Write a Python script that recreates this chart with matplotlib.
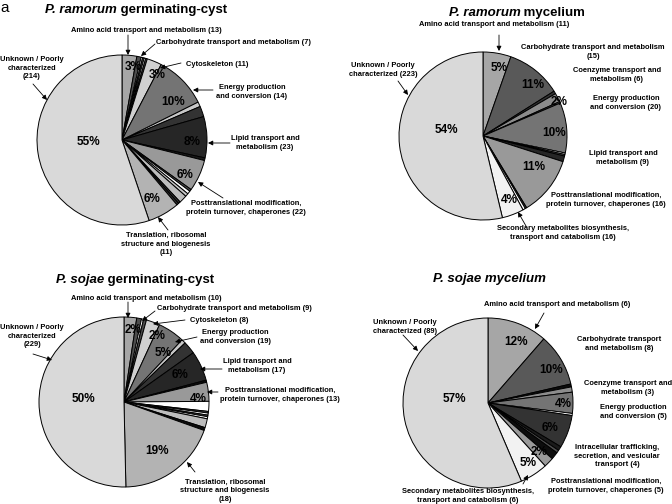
import matplotlib
matplotlib.use('Agg')
import matplotlib.pyplot as plt

plt.rcParams['font.family'] = ['Liberation Sans', 'DejaVu Sans']

H = 504  # figure height in px, used to flip y

# grey shades used in the slices
UN = '#d9d9d9'   # unknown
AM = '#a6a6a6'   # amino acid
CB = '#595959'   # carbohydrate
CY = '#d0d0d0'   # cytoskeleton
EN = '#747474'   # energy
LI = '#262626'   # lipid
PT = '#999999'   # posttranslational
TR = '#b3b3b3'   # translation
SE = '#f2f2f2'   # secondary metabolites
G2 = '#8c8c8c'
L = '#c8c8c8'
LG = '#bdbdbd'
W = '#ffffff'
D2 = '#1a1a1a'
D3 = '#333333'
D4 = '#4d4d4d'
K = '#0d0d0d'

# ---- P. ramorum germinating-cyst
rc_sizes = [2.8, 0.8, 0.3, 0.3, 0.3, 0.3, 2.8, 10, 0.9, 2, 7.8, 0.5, 6,
            0.4, 0.6, 0.6, 1.5, 0.4, 0.4, 6, 55]
rc_colors = [AM, D4, W, D4, W, D4, CY, EN, L, D3, LI, D2, PT,
             D4, W, L, LG, D3, D3, TR, UN]
rc_pct = [('3%', 133, 67), ('3%', 157, 75), ('10%', 173, 102), ('8%', 192, 142),
          ('6%', 185, 175), ('6%', 152, 199), ('55%', 88, 142)]
rc_labels = [
    ('Amino acid transport and metabolism (13)', 146, 31, (128, 35), (128, 55)),
    ('Carbohydrate transport and metabolism (7)', 234, 42, (155, 44), (141, 56)),
    ('Cytoskeleton (11)', 217, 64, (181, 63), (160, 68)),
    ('Energy production\nand conversion (14)', 252, 92, (213, 90), (193, 90)),
    ('Lipid transport and\nmetabolism (23)', 265, 143, (230, 143), (208, 143)),
    ('Posttranslational modification,\nprotein turnover, chaperones (22)', 246, 208, (223, 198), (198, 182)),
    ('Translation, ribosomal\nstructure and biogenesis\n(11)', 166, 244, (168, 230), (158, 217)),
    ('Unknown / Poorly\ncharacterized\n(214)', 32, 68, (33, 84), (47, 100)),
]

# ---- P. ramorum mycelium
rm_sizes = [5.4, 10.7, 0.55, 1.7, 0.3, 9.7, 0.3, 0.3, 1.1, 11.4, 0.3, 0.5, 4.2, 53.9]
rm_colors = [AM, CB, D3, G2, D4, EN, W, D4, LI, PT, D3, W, SE, UN]
rm_pct = [('5%', 499, 68), ('11%', 533, 85), ('2%', 559, 102), ('10%', 554, 133),
          ('11%', 534, 167), ('4%', 509, 200), ('54%', 446, 130)]
rm_labels = [
    ('Amino acid transport and metabolism (11)', 494, 24, (499, 35), (499, 51)),
    ('Carbohydrate transport and metabolism\n(15)', 593, 52, None, None),
    ('Coenzyme transport and\nmetabolism (6)', 617, 75, None, None),
    ('Energy production\nand conversion (20)', 626, 103, None, None),
    ('Lipid transport and\nmetabolism (9)', 623, 158, None, None),
    ('Posttranslational modification,\nprotein turnover, chaperones (16)', 606, 200, None, None),
    ('Secondary metabolites biosynthesis,\ntransport and catabolism (16)', 563, 233, (526, 226), (518, 212)),
    ('Unknown / Poorly\ncharacterized (223)', 383, 70, (398, 81), (408, 95)),
]

# ---- P. sojae germinating-cyst
sc_sizes = [2.4, 0.9, 0.4, 0.55, 2.6, 5.1, 0.8, 2.4, 5.7, 0.4, 3.6, 1.9,
            0.3, 0.4, 0.3, 0.4, 1.7, 0.55, 19.2, 50.3]
sc_colors = [AM, D4, W, D4, CY, EN, L, D3, LI, K, PT, W,
             D4, W, D4, W, LG, K, TR, UN]
sc_pct = [('2%', 133, 330), ('2%', 157, 336), ('5%', 163, 353), ('6%', 180, 375),
          ('4%', 198, 399), ('19%', 157, 451), ('50%', 83, 399)]
sc_labels = [
    ('Amino acid transport and metabolism (10)', 146, 299, (128, 302), (128, 318)),
    ('Carbohydrate transport and metabolism (9)', 234, 309, (155, 311), (142, 321)),
    ('Cytoskeleton (8)', 219, 321, (185, 320), (153, 324)),
    ('Energy production\nand conversion (19)', 235, 337, (197, 337), (175, 342)),
    ('Lipid transport and\nmetabolism (17)', 257, 366, (222, 369), (200, 369)),
    ('Posttranslational modification,\nprotein turnover, chaperones (13)', 280, 395, (218, 392), (207, 392)),
    ('Translation, ribosomal\nstructure and biogenesis\n(18)', 225, 491, (195, 472), (187, 462)),
    ('Unknown / Poorly\ncharacterized\n(229)', 32, 336, (33, 354), (52, 360)),
]

# ---- P. sojae mycelium
sm_sizes = [11.4, 10, 0.55, 1.0, 4.0, 0.4, 6.25, 0.8, 0.55, 1.4, 1.9, 5.3, 56.4]
sm_colors = [AM, CB, K, G2, EN, W, D3, D2, D4, K, PT, SE, UN]
sm_pct = [('12%', 516, 342), ('10%', 551, 370), ('4%', 563, 404), ('6%', 550, 428),
          ('2%', 539, 452), ('5%', 528, 463), ('57%', 454, 399)]
sm_labels = [
    ('Amino acid transport and metabolism (6)', 557, 304, (544, 313), (535, 329)),
    ('Carbohydrate transport\nand metabolism (8)', 619, 344, None, None),
    ('Coenzyme transport and\nmetabolism (3)', 628, 388, None, None),
    ('Energy production\nand conversion (5)', 633, 412, None, None),
    ('Intracellular trafficking,\nsecretion, and vesicular\ntransport (4)', 617, 456, None, None),
    ('Posttranslational modification,\nprotein turnover, chaperones (5)', 606, 486, None, None),
    ('Secondary metabolites biosynthesis,\ntransport and catabolism (6)', 468, 496, (523, 484), (528, 475)),
    ('Unknown / Poorly\ncharacterized (89)', 405, 327, (403, 335), (418, 351)),
]

pies = [
    # sizes, colors, pct, labels, center, radius, title (italic part, rest), title pos
    (rc_sizes, rc_colors, rc_pct, rc_labels, (122, 140), 85, ('P. ramorum', ' germinating-cyst'), (136, 10)),
    (rm_sizes, rm_colors, rm_pct, rm_labels, (483, 136), 84, ('P. ramorum', ' mycelium'), (517, 13)),
    (sc_sizes, sc_colors, sc_pct, sc_labels, (124, 402), 85, ('P. sojae', ' germinating-cyst'), (135, 280)),
    (sm_sizes, sm_colors, sm_pct, sm_labels, (488, 403), 85, ('P. sojae mycelium', ''), (489, 279)),
]

fig = plt.figure(figsize=(6.72, 5.04), dpi=100)
ax = fig.add_axes([0, 0, 1, 1])

titles = []
for sizes, colors, pct, labels, (cx, cy), r, (tit_i, tit_r), (tx, ty) in pies:
    ax.pie(sizes, colors=colors, startangle=90, counterclock=False,
           center=(cx, H - cy), radius=r,
           wedgeprops=dict(edgecolor='black', linewidth=0.7))
    for s, x, y in pct:
        ax.text(x, H - y, s, ha='center', va='center', fontsize=8.5, fontweight='bold')
    for s, x, y, a0, a1 in labels:
        ax.text(x, H - y, s, ha='center', va='center', ma='center', fontsize=5.4,
                fontweight='bold', linespacing=1.3)
        if a0 is not None:
            ax.annotate('', xy=(a1[0], H - a1[1]), xytext=(a0[0], H - a0[1]),
                        arrowprops=dict(arrowstyle='-|>', color='black', lw=0.6,
                                        mutation_scale=7, shrinkA=0, shrinkB=0))
    t1 = ax.text(0, H - ty, tit_i, ha='left', va='center', fontsize=9.5,
                 fontweight='bold', fontstyle='italic')
    t2 = ax.text(0, H - ty, tit_r, ha='left', va='center', fontsize=9.5,
                 fontweight='bold')
    titles.append((t1, t2, tx))

ax.text(5, H - 8, 'a', ha='center', va='center', fontsize=11)

ax.set_xlim(0, 672)
ax.set_ylim(0, H)
ax.set_aspect('equal')
ax.axis('off')

# centre each two-part title
fig.canvas.draw()
rend = fig.canvas.get_renderer()
for t1, t2, tx in titles:
    w1 = t1.get_window_extent(rend).width
    w2 = t2.get_window_extent(rend).width if t2.get_text() else 0
    x0 = tx - (w1 + w2) / 2
    t1.set_x(x0)
    t2.set_x(x0 + w1)

fig.savefig('out.png', dpi=100)
